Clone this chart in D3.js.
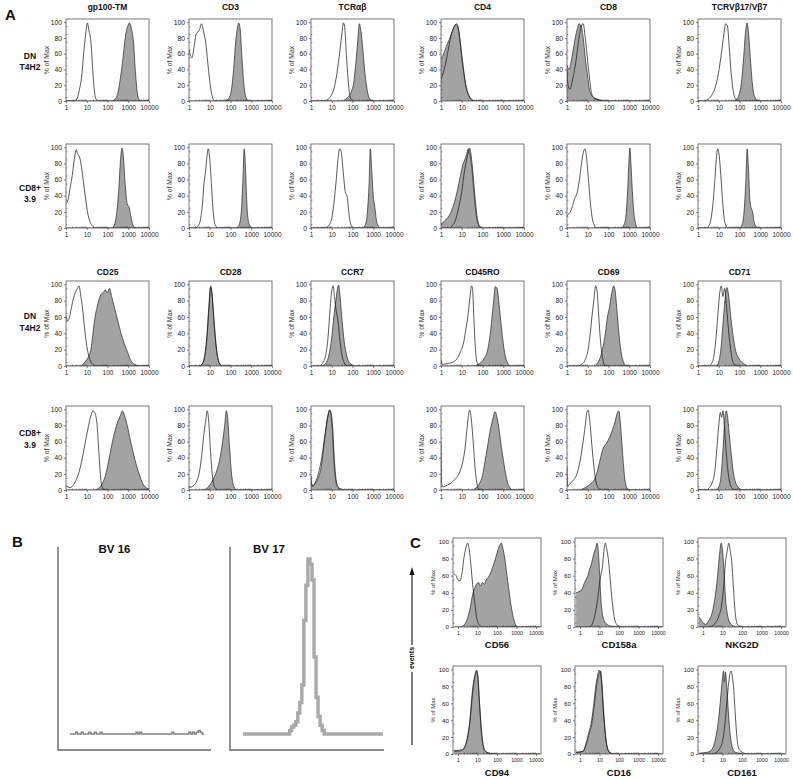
<!DOCTYPE html>
<html><head><meta charset="utf-8">
<script src="https://cdn.jsdelivr.net/npm/d3@7"></script>
<style>
body{margin:0;background:#fff}
text{font-family:"Liberation Sans",Arial,Helvetica,sans-serif}
</style>
</head><body>
<svg id="fig" width="793" height="779"></svg>
<script>
// ---- data (x given as log10 of fluorescence, y as % of max) ----
var markersA = ["gp100-TM","CD3","TCR\u03b1\u03b2","CD4","CD8","TCRV\u03b217/V\u03b27",
                "CD25","CD28","CCR7","CD45RO","CD69","CD71"];
var rowLabelsA = [["DN","T4H2"],["CD8+","3.9"],["DN","T4H2"],["CD8+","3.9"]];
var xTickLabels = ["1","10","100","1000","10000"];
var yTickLabels = [0,20,40,60,80,100];

// open (unfilled) histograms, panel order: row by row, 6 per row
var openA = [
 [[0,0],[0.45,1],[0.55,4],[0.65,15],[0.75,30],[0.85,60],[0.95,85],[1.03,99],[1.1,90],[1.2,75],[1.3,35],[1.38,10],[1.45,2],[1.6,0],[4,0]],
 [[0,65],[0.07,58],[0.15,55],[0.25,70],[0.35,85],[0.5,90],[0.6,98],[0.7,88],[0.8,75],[0.9,50],[1.0,25],[1.1,8],[1.2,1],[1.3,0],[4,0]],
 [[0,0],[0.7,0],[0.8,2],[0.95,6],[1.1,15],[1.25,35],[1.4,65],[1.5,88],[1.56,99],[1.62,95],[1.7,60],[1.78,30],[1.85,10],[1.95,2],[2.1,0],[4,0]],
 [[0,27],[0.1,35],[0.2,45],[0.35,65],[0.5,85],[0.65,95],[0.75,98],[0.85,90],[0.95,70],[1.05,48],[1.15,28],[1.3,10],[1.45,3],[1.6,0],[4,0]],
 [[0,40],[0.05,20],[0.15,15],[0.25,25],[0.4,45],[0.55,75],[0.68,95],[0.78,98],[0.88,80],[1.0,50],[1.1,25],[1.2,8],[1.35,3],[1.6,1],[1.8,0],[4,0]],
 [[0,0],[0.3,0],[0.45,2],[0.6,5],[0.8,15],[0.95,30],[1.1,55],[1.25,85],[1.33,98],[1.42,95],[1.5,70],[1.6,35],[1.7,12],[1.8,3],[1.95,0],[4,0]],

 [[0,30],[0.1,35],[0.2,50],[0.3,65],[0.4,85],[0.5,97],[0.55,92],[0.65,88],[0.75,75],[0.85,55],[0.95,35],[1.05,18],[1.15,8],[1.3,2],[1.45,0],[4,0]],
 [[0,0],[0.3,0],[0.45,3],[0.55,10],[0.65,30],[0.72,55],[0.8,70],[0.87,90],[0.93,98],[1.0,85],[1.08,55],[1.15,25],[1.22,8],[1.3,2],[1.4,0],[4,0]],
 [[0,0],[0.7,0],[0.85,3],[1.0,12],[1.1,30],[1.2,55],[1.3,85],[1.38,98],[1.45,95],[1.55,70],[1.65,45],[1.75,38],[1.82,20],[1.9,6],[2.0,1],[2.1,0],[4,0]],
 [[0,0],[0.4,0],[0.55,3],[0.7,10],[0.85,25],[1.0,45],[1.1,65],[1.2,80],[1.3,92],[1.38,99],[1.45,90],[1.55,65],[1.65,35],[1.75,12],[1.85,3],[2.0,0],[4,0]],
 [[0,15],[0.1,18],[0.2,22],[0.35,35],[0.5,45],[0.6,60],[0.7,80],[0.8,95],[0.87,98],[0.95,85],[1.05,55],[1.15,25],[1.25,8],[1.35,2],[1.45,0],[4,0]],
 [[0,0],[0.4,0],[0.5,2],[0.6,8],[0.7,25],[0.8,55],[0.88,85],[0.95,98],[1.02,90],[1.1,65],[1.18,35],[1.26,12],[1.35,3],[1.45,0],[4,0]],

 [[0,62],[0.08,55],[0.15,58],[0.25,70],[0.35,82],[0.45,90],[0.55,95],[0.63,98],[0.7,88],[0.8,70],[0.9,45],[1.0,25],[1.1,12],[1.2,5],[1.35,1],[1.5,0],[4,0]],
 [[0,0],[0.5,0],[0.65,3],[0.75,12],[0.85,33],[0.95,70],[1.03,96],[1.1,90],[1.2,58],[1.3,27],[1.4,9],[1.5,2],[1.6,0],[4,0]],
 [[0,0],[0.4,0],[0.55,3],[0.7,12],[0.82,35],[0.92,70],[1.0,92],[1.07,98],[1.13,85],[1.2,70],[1.3,55],[1.4,30],[1.5,12],[1.6,4],[1.75,0],[4,0]],
 [[0,8],[0.05,2],[0.3,3],[0.6,5],[0.8,10],[0.95,18],[1.1,30],[1.2,45],[1.3,62],[1.4,85],[1.47,98],[1.52,95],[1.58,60],[1.65,25],[1.72,6],[1.85,0],[4,0]],
 [[0,0],[0.5,0],[0.7,2],[0.85,6],[1.0,18],[1.1,35],[1.2,60],[1.3,82],[1.38,98],[1.45,92],[1.52,65],[1.6,35],[1.68,15],[1.75,5],[1.85,0],[4,0]],
 [[0,0],[0.5,0],[0.65,3],[0.75,10],[0.85,30],[0.95,60],[1.05,90],[1.12,98],[1.2,85],[1.28,95],[1.35,80],[1.45,50],[1.55,25],[1.65,8],[1.75,2],[1.9,0],[4,0]],

 [[0,5],[0.2,3],[0.4,8],[0.6,20],[0.75,35],[0.9,55],[1.05,75],[1.2,92],[1.3,98],[1.4,95],[1.5,80],[1.6,40],[1.68,12],[1.75,3],[1.85,0],[4,0]],
 [[0,3],[0.2,5],[0.35,10],[0.5,22],[0.6,40],[0.7,65],[0.8,85],[0.88,98],[0.95,85],[1.02,55],[1.1,25],[1.18,8],[1.28,2],[1.4,0],[4,0]],
 [[0,10],[0.1,5],[0.25,12],[0.4,25],[0.55,45],[0.68,70],[0.8,90],[0.9,99],[0.97,95],[1.05,75],[1.12,40],[1.2,15],[1.3,4],[1.45,1],[1.6,0],[4,0]],
 [[0,60],[0.03,8],[0.1,4],[0.3,6],[0.5,9],[0.7,14],[0.9,22],[1.05,35],[1.15,50],[1.25,75],[1.32,92],[1.38,99],[1.45,90],[1.55,60],[1.65,25],[1.75,6],[1.85,0],[4,0]],
 [[0,30],[0.03,5],[0.15,8],[0.3,12],[0.45,18],[0.6,32],[0.75,55],[0.88,80],[0.95,95],[1.02,99],[1.1,85],[1.2,55],[1.3,28],[1.4,10],[1.5,3],[1.65,0],[4,0]],
 [[0,0],[0.4,0],[0.55,3],[0.7,10],[0.82,25],[0.92,55],[1.0,80],[1.08,96],[1.14,90],[1.2,98],[1.27,80],[1.35,50],[1.45,22],[1.55,7],[1.65,2],[1.8,0],[4,0]]
];

// filled (grey) histograms, same order
var filledA = [
 [[0,0],[2.2,0],[2.35,2],[2.5,10],[2.6,25],[2.75,55],[2.88,85],[2.98,95],[3.05,99],[3.15,92],[3.25,75],[3.35,35],[3.45,8],[3.55,1],[3.7,0],[4,0]],
 [[0,0],[1.7,0],[1.9,3],[2.05,15],[2.15,40],[2.25,75],[2.35,95],[2.4,99],[2.47,90],[2.55,55],[2.65,20],[2.75,4],[2.9,0],[4,0]],
 [[0,0],[1.5,0],[1.7,3],[1.85,7],[1.95,12],[2.05,22],[2.15,45],[2.25,75],[2.33,98],[2.4,90],[2.5,65],[2.6,35],[2.7,15],[2.8,4],[2.95,0],[4,0]],
 [[0,55],[0.1,58],[0.2,65],[0.3,72],[0.4,78],[0.5,85],[0.6,92],[0.7,97],[0.8,95],[0.9,80],[1.0,55],[1.1,35],[1.2,18],[1.35,6],[1.5,1],[1.65,0],[4,0]],
 [[0,45],[0.1,40],[0.2,50],[0.3,65],[0.4,80],[0.5,92],[0.58,98],[0.68,95],[0.78,80],[0.88,55],[1.0,30],[1.1,12],[1.25,5],[1.4,3],[1.6,1],[1.8,0],[4,0]],
 [[0,0],[1.7,0],[1.85,2],[1.98,8],[2.1,25],[2.2,55],[2.3,90],[2.36,99],[2.43,88],[2.52,55],[2.62,22],[2.72,6],[2.85,1],[3.0,0],[4,0]],

 [[0,0],[2.2,0],[2.35,5],[2.45,20],[2.55,50],[2.63,85],[2.7,99],[2.76,90],[2.85,55],[2.95,30],[3.05,25],[3.12,15],[3.22,4],[3.35,0],[4,0]],
 [[0,0],[2.3,0],[2.42,4],[2.52,20],[2.6,60],[2.66,98],[2.72,75],[2.78,35],[2.85,10],[2.95,2],[3.05,0],[4,0]],
 [[0,0],[2.5,0],[2.62,4],[2.72,20],[2.8,55],[2.86,98],[2.93,70],[3.0,40],[3.08,25],[3.15,10],[3.25,2],[3.35,0],[4,0]],
 [[0,5],[0.15,8],[0.3,12],[0.45,18],[0.6,28],[0.75,42],[0.9,60],[1.05,78],[1.2,88],[1.32,98],[1.4,92],[1.5,70],[1.6,40],[1.7,15],[1.8,4],[1.95,0],[4,0]],
 [[0,0],[2.6,0],[2.75,4],[2.85,18],[2.93,50],[3.0,90],[3.03,99],[3.08,80],[3.15,45],[3.22,20],[3.3,6],[3.4,0],[4,0]],
 [[0,0],[2.0,0],[2.12,4],[2.22,20],[2.3,55],[2.37,98],[2.43,75],[2.5,35],[2.56,25],[2.63,20],[2.7,8],[2.8,2],[2.9,0],[4,0]],

 [[0,0],[0.7,0],[0.85,3],[1.0,8],[1.1,12],[1.2,20],[1.3,40],[1.4,60],[1.5,72],[1.6,82],[1.7,88],[1.8,90],[1.9,93],[2.0,90],[2.1,95],[2.2,85],[2.35,70],[2.5,55],[2.65,40],[2.8,28],[2.95,18],[3.1,8],[3.25,3],[3.4,1],[3.55,0],[4,0]],
 [[0,0],[0.5,0],[0.65,3],[0.75,10],[0.85,30],[0.95,65],[1.05,98],[1.12,85],[1.2,55],[1.3,25],[1.4,8],[1.5,2],[1.6,0],[4,0]],
 [[0,0],[0.5,0],[0.7,3],[0.85,12],[1.0,35],[1.1,60],[1.2,80],[1.28,95],[1.33,99],[1.4,85],[1.5,55],[1.6,30],[1.7,15],[1.8,6],[1.95,2],[2.1,0],[4,0]],
 [[0,0],[1.6,0],[1.8,2],[1.95,5],[2.1,10],[2.25,20],[2.4,45],[2.52,75],[2.62,97],[2.7,95],[2.8,75],[2.9,50],[3.0,28],[3.1,12],[3.2,4],[3.35,0],[4,0]],
 [[0,0],[1.3,0],[1.45,3],[1.6,10],[1.75,25],[1.85,40],[1.95,60],[2.05,72],[2.15,88],[2.25,98],[2.32,92],[2.4,70],[2.5,40],[2.6,18],[2.72,5],[2.85,0],[4,0]],
 [[0,0],[0.9,0],[1.0,5],[1.1,20],[1.2,50],[1.28,75],[1.35,92],[1.4,96],[1.48,85],[1.58,60],[1.7,35],[1.82,18],[1.95,10],[2.1,5],[2.25,2],[2.4,0],[4,0]],

 [[0,0],[1.4,0],[1.6,3],[1.75,8],[1.9,18],[2.05,35],[2.2,55],[2.35,72],[2.5,85],[2.62,92],[2.72,98],[2.82,92],[2.95,80],[3.1,62],[3.25,45],[3.4,30],[3.55,18],[3.7,8],[3.85,3],[4.0,1]],
 [[0,0],[0.7,0],[0.9,3],[1.05,8],[1.2,15],[1.35,25],[1.5,40],[1.62,60],[1.72,80],[1.8,98],[1.86,90],[1.95,55],[2.05,20],[2.15,5],[2.3,0],[4,0]],
 [[0,18],[0.05,5],[0.2,8],[0.35,15],[0.5,30],[0.62,55],[0.72,75],[0.82,92],[0.9,99],[0.98,90],[1.05,65],[1.12,30],[1.2,10],[1.3,3],[1.45,1],[1.6,0],[4,0]],
 [[0,0],[1.5,0],[1.7,3],[1.85,8],[2.0,18],[2.12,35],[2.25,55],[2.38,75],[2.5,88],[2.6,97],[2.68,92],[2.78,78],[2.9,55],[3.0,38],[3.1,22],[3.2,10],[3.32,3],[3.45,0],[4,0]],
 [[0,0],[0.6,0],[0.8,2],[1.0,5],[1.15,8],[1.3,12],[1.45,22],[1.6,38],[1.75,52],[1.9,58],[2.05,65],[2.2,75],[2.32,85],[2.42,95],[2.5,98],[2.58,80],[2.68,45],[2.78,15],[2.88,3],[3.0,0],[4,0]],
 [[0,0],[0.9,0],[1.0,4],[1.1,15],[1.18,40],[1.25,70],[1.3,90],[1.36,98],[1.42,92],[1.5,70],[1.6,45],[1.7,22],[1.8,10],[1.92,4],[2.05,1],[2.2,0],[4,0]]
];

var markersC = ["CD56","CD158a","NKG2D","CD94","CD16","CD161"];
var openC = [
 [[-0.2,62],[-0.1,60],[0,55],[0.1,54],[0.2,62],[0.3,80],[0.4,92],[0.5,98],[0.58,90],[0.65,75],[0.75,50],[0.85,30],[0.95,12],[1.05,4],[1.15,1],[1.3,0],[4.2,0]],
 [[-0.2,0],[0.5,0],[0.6,2],[0.7,8],[0.8,18],[0.9,32],[1.0,50],[1.08,62],[1.15,70],[1.22,88],[1.3,98],[1.38,90],[1.45,80],[1.55,55],[1.65,30],[1.75,12],[1.85,4],[2.0,1],[2.3,0],[4.2,0]],
 [[-0.2,0],[0.3,0],[0.5,2],[0.65,5],[0.8,12],[0.95,25],[1.05,45],[1.15,75],[1.25,90],[1.32,98],[1.4,88],[1.48,75],[1.55,50],[1.62,25],[1.7,8],[1.8,2],[1.95,0],[4.2,0]],
 [[-0.2,4],[0.2,5],[0.35,9],[0.5,22],[0.62,42],[0.72,70],[0.82,88],[0.9,96],[0.96,99],[1.03,90],[1.1,62],[1.2,30],[1.3,10],[1.42,3],[1.6,1],[1.8,0],[4.2,0]],
 [[-0.2,2],[0.15,3],[0.3,12],[0.45,25],[0.6,40],[0.72,62],[0.82,82],[0.9,92],[0.98,99],[1.05,96],[1.12,80],[1.2,50],[1.3,22],[1.4,7],[1.5,2],[1.7,0],[4.2,0]],
 [[-0.2,0],[0.5,0],[0.7,2],[0.85,6],[1.0,15],[1.1,30],[1.2,55],[1.3,80],[1.38,95],[1.44,98],[1.5,92],[1.58,75],[1.66,45],[1.74,20],[1.82,7],[1.95,3],[2.1,1],[2.4,0],[4.2,0]]
];
var filledC = [
 [[-0.2,0],[0.1,0],[0.3,2],[0.45,8],[0.55,15],[0.65,25],[0.75,38],[0.85,45],[0.95,50],[1.05,52],[1.15,48],[1.25,52],[1.35,50],[1.45,55],[1.55,58],[1.65,62],[1.75,68],[1.85,75],[1.95,82],[2.05,90],[2.15,96],[2.22,98],[2.3,92],[2.4,80],[2.5,62],[2.6,45],[2.7,28],[2.8,15],[2.9,6],[3.0,1],[3.1,0],[4.2,0]],
 [[-0.2,40],[0.1,44],[0.2,50],[0.3,55],[0.4,60],[0.5,68],[0.6,75],[0.7,85],[0.8,92],[0.88,98],[0.95,85],[1.02,55],[1.08,30],[1.15,15],[1.25,7],[1.4,3],[1.6,1],[1.9,0],[4.2,0]],
 [[-0.2,12],[0.05,4],[0.15,3],[0.3,8],[0.45,15],[0.55,25],[0.65,40],[0.75,60],[0.85,85],[0.93,98],[1.0,90],[1.08,65],[1.15,35],[1.25,15],[1.35,6],[1.5,2],[1.7,0],[4.2,0]],
 [[-0.2,3],[0.2,4],[0.35,8],[0.5,20],[0.62,40],[0.72,65],[0.82,85],[0.9,95],[0.95,98],[1.02,88],[1.1,60],[1.18,30],[1.28,10],[1.4,3],[1.6,1],[1.8,0],[4.2,0]],
 [[-0.2,2],[0.15,3],[0.3,10],[0.45,22],[0.6,35],[0.72,55],[0.82,75],[0.92,90],[1.0,97],[1.06,98],[1.12,85],[1.2,55],[1.3,25],[1.4,8],[1.5,3],[1.7,0],[4.2,0]],
 [[-0.2,1],[0.2,2],[0.4,4],[0.55,10],[0.7,25],[0.82,45],[0.92,70],[1.0,90],[1.05,98],[1.1,85],[1.15,97],[1.22,80],[1.3,50],[1.4,22],[1.5,8],[1.6,3],[1.8,1],[2.1,0],[4.2,0]]
];

// panel B: clonotype spectra, one value per channel
var bvLabels = ["BV 16","BV 17"];
var bv16 = [0,0,0,1,0,0,1,0,0,0,1,0,0,1,0,0,1,0,0,0,0,0,0,0,0,0,0,0,0,0,0,0,0,0,0,1,0,1,0,0,
            0,0,0,0,0,0,0,0,0,0,0,0,0,0,1,0,0,0,0,0,0,0,0,1,0,1,0,1,2,1,0,0];
var bv17 = [0,0,0,0,0,0,0,0,0,0,0,0,0,0,0,0,0,0,0,0,0,0,0,2,4,5,7,12,18,28,65,85,100,97,88,44,21,10,5,2,
            0,0,0,0,0,0,0,0,0,0,0,0,0,0,0,0,0,0,0,0,0,0,0,0,0,0,0,0,0,0];

// ---- drawing ----
var svg = d3.select("#fig");
svg.append("rect").attr("width",793).attr("height",779).attr("fill","#fff");
var clipId = 0;

function drawPanel(o){
  var x = d3.scaleLinear().domain([0,4]).range([o.left + o.xpad0, o.left + o.w - o.xpad1]);
  var y = d3.scaleLinear().domain([0,104]).range([o.y0, o.top]);
  var g = svg.append("g");
  var id = "c" + (clipId++);
  g.append("clipPath").attr("id", id).append("rect")
    .attr("x", o.left).attr("y", o.top).attr("width", o.w).attr("height", o.y0 - o.top);

  var area = d3.area().curve(d3.curveMonotoneX)
    .x(function(d){ return x(d[0]); }).y0(y(0)).y1(function(d){ return y(d[1]); });
  var line = d3.line().curve(d3.curveMonotoneX)
    .x(function(d){ return x(d[0]); }).y(function(d){ return y(d[1]); });

  var pg = g.append("g").attr("clip-path","url(#"+id+")");
  pg.append("path").attr("d", area(o.filled)).attr("fill","#a3a3a3").attr("stroke","none");
  pg.append("path").attr("d", line(o.filled)).attr("fill","none").attr("stroke","#222").attr("stroke-width",0.7);
  pg.append("path").attr("d", line(o.open)).attr("fill","none").attr("stroke","#111").attr("stroke-width",0.7);

  g.append("rect").attr("x", o.left).attr("y", o.top).attr("width", o.w).attr("height", o.y0 - o.top)
    .attr("fill","none").attr("stroke","#555").attr("stroke-width",0.8);

  // minor ticks
  var minorX = [];
  for (var dcd = 0; dcd < 4; dcd++) for (var k = 2; k < 10; k++) minorX.push(dcd + Math.log10(k));
  g.append("g").attr("transform","translate(0,"+o.y0+")")
    .call(d3.axisBottom(x).tickValues(minorX).tickSize(-1.5).tickFormat(""))
    .call(function(a){ a.select(".domain").remove(); a.selectAll("line").attr("stroke","#333").attr("stroke-width",0.5); });
  g.append("g").attr("transform","translate("+o.left+",0)")
    .call(d3.axisLeft(y).tickValues(d3.range(5,100,10)).tickSize(-1.5).tickFormat(""))
    .call(function(a){ a.select(".domain").remove(); a.selectAll("line").attr("stroke","#333").attr("stroke-width",0.5); });

  // major axes
  g.append("g").attr("transform","translate(0,"+o.y0+")")
    .call(d3.axisBottom(x).tickValues([0,1,2,3,4]).tickSize(2).tickPadding(2)
      .tickFormat(function(d,i){ return xTickLabels[i]; }))
    .call(function(a){
      a.select(".domain").remove();
      a.selectAll("line").attr("stroke","#333").attr("stroke-width",0.6);
      a.selectAll("text").attr("font-size", o.xfs).attr("fill","#222")
        .attr("font-family",'"Liberation Sans",Arial,sans-serif');
    });
  g.append("g").attr("transform","translate("+o.left+",0)")
    .call(d3.axisLeft(y).tickValues(yTickLabels).tickSize(2).tickPadding(2))
    .call(function(a){
      a.select(".domain").remove();
      a.selectAll("line").attr("stroke","#333").attr("stroke-width",0.6);
      a.selectAll("text").attr("font-size", o.yfs).attr("fill","#222")
        .attr("font-family",'"Liberation Sans",Arial,sans-serif');
    });

  g.append("text").attr("transform","translate("+(o.left - o.ylabDx)+","+((o.top + o.y0)/2)+") rotate(-90)")
    .attr("text-anchor","middle").attr("dominant-baseline","middle")
    .attr("font-size", o.ylabFs).attr("fill","#333").text("% of Max");

  if (o.title) {
    g.append("text").attr("x", o.left + o.w/2).attr("y", o.titleY)
      .attr("text-anchor","middle").attr("dominant-baseline","middle")
      .attr("font-size", o.titleFs).attr("font-weight","bold").attr("fill","#111").text(o.title);
  }
}

// panel A
var colLeftA = [66,189,311,441,567,698];
var rowTopA = [19,144,281,406], rowZeroA = [101,228,366,490];
var titleYA = [8,null,273,null];
var rowLabYA = [[57,68],[189,200],[317,329],[434,446]];
for (var r = 0; r < 4; r++) {
  for (var c = 0; c < 6; c++) {
    var p = r*6 + c;
    drawPanel({left: colLeftA[c], w: 83, xpad0: 0, xpad1: 0, top: rowTopA[r], y0: rowZeroA[r],
      open: openA[p], filled: filledA[p],
      title: titleYA[r] !== null ? markersA[(r >= 2 ? 6 : 0) + c] : null, titleY: titleYA[r],
      titleFs: 8.5, xfs: 6.5, yfs: 6.8, ylabFs: 6.8, ylabDx: 19});
  }
  rowLabelsA[r].forEach(function(t, i){
    svg.append("text").attr("x", 30).attr("y", rowLabYA[r][i])
      .attr("text-anchor","middle").attr("dominant-baseline","middle")
      .attr("font-size", 8.5).attr("font-weight","bold").attr("fill","#111").text(t);
  });
}

// panel C
var colLeftC = [453,575,698];
var rowTopC = [538,666], rowZeroC = [627,754], titleYC = [645,773];
for (var r2 = 0; r2 < 2; r2++) {
  for (var c2 = 0; c2 < 3; c2++) {
    var q = r2*3 + c2;
    drawPanel({left: colLeftC[c2], w: 88, xpad0: 5, xpad1: 5, top: rowTopC[r2], y0: rowZeroC[r2],
      open: openC[q], filled: filledC[q], title: markersC[q], titleY: titleYC[r2],
      titleFs: 9.5, xfs: 5.2, yfs: 6.2, ylabFs: 6, ylabDx: 20});
  }
}

// "events" arrow
var ev = svg.append("g");
ev.append("line").attr("x1",412).attr("x2",412).attr("y1",745).attr("y2",672).attr("stroke","#111").attr("stroke-width",1.1);
ev.append("line").attr("x1",412).attr("x2",412).attr("y1",645).attr("y2",574).attr("stroke","#111").attr("stroke-width",1.1);
ev.append("path").attr("d","M412,567 L409.5,575 L414.5,575 Z").attr("fill","#111");
ev.append("text").attr("transform","translate(412,658) rotate(-90)")
  .attr("text-anchor","middle").attr("dominant-baseline","middle")
  .attr("font-size",7).attr("font-weight","bold").attr("fill","#111").text("events");

// panel B
var bvBoxes = [{left:58, right:211, x0:70, x1:204, data: bv16, color:"#808080", sw:1.4},
               {left:230, right:384, x0:243, x1:383, data: bv17, color:"#a9a9a9", sw:3.4}];
var yB = d3.scaleLinear().domain([0,100]).range([734,559]);
bvBoxes.forEach(function(b, i){
  var g = svg.append("g");
  g.append("path").attr("d","M"+b.left+",547 L"+b.left+",750 L"+b.right+",750")
    .attr("fill","none").attr("stroke","#666").attr("stroke-width",1.4);
  g.append("text").attr("x",(b.left+b.right)/2 + (i === 0 ? -20 : -38)).attr("y",553)
    .attr("text-anchor","middle").attr("font-size",11.5).attr("font-weight","bold").attr("fill","#111")
    .text(bvLabels[i]);
  var xb = d3.scaleLinear().domain([0, b.data.length-1]).range([b.x0, b.x1]);
  var ln = d3.line().curve(d3.curveStepAfter)
    .x(function(d, j){ return xb(j); }).y(function(d){ return yB(d); });
  g.append("path").attr("d", ln(b.data)).attr("fill","none").attr("stroke", b.color)
    .attr("stroke-width", b.sw).attr("stroke-linejoin","miter");
});

// panel letters
[["A",5,20],["B",12,547],["C",410,548]].forEach(function(l){
  svg.append("text").attr("x",l[1]).attr("y",l[2]).attr("font-size",15).attr("font-weight","bold")
    .attr("fill","#111").text(l[0]);
});
</script>
</body></html>
